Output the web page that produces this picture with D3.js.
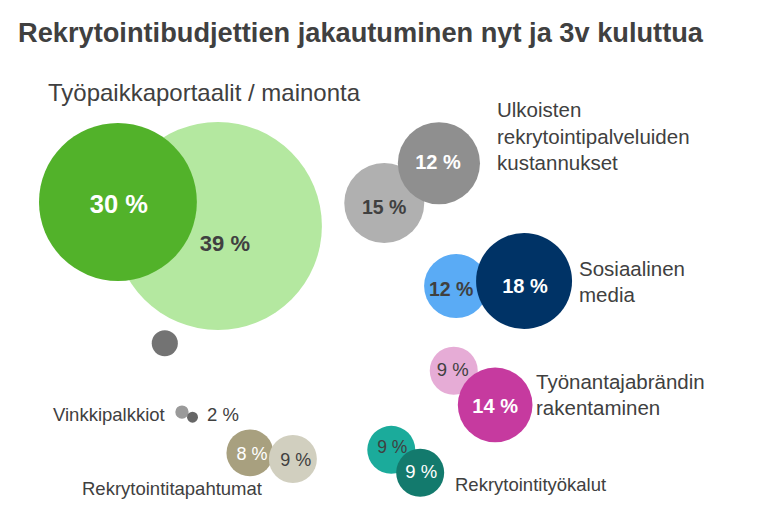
<!DOCTYPE html>
<html><head><meta charset="utf-8">
<script src="https://cdn.jsdelivr.net/npm/d3@7"></script>
<style>
html,body{margin:0;padding:0;background:#fff;}
svg{display:block;font-family:"Liberation Sans",Arial,sans-serif;}
</style></head>
<body>
<script>
// ---- data ----
const title = "Rekrytointibudjettien jakautuminen nyt ja 3v kuluttua";
const categories = [
  "Työpaikkaportaalit / mainonta",
  "Ulkoisten rekrytointipalveluiden kustannukset",
  "Sosiaalinen media",
  "Työnantajabrändin rakentaminen",
  "Rekrytointityökalut",
  "Rekrytointitapahtumat",
  "Vinkkipalkkiot"
];
// bubbles in drawing order (later on top)
const bubbleCategory = [0,0, 1,1, 2,2, 3,3, 4,4, 5,5, 6,6, -1];
const bubbleValue    = [39,30, 15,12, 12,18, 9,14, 9,9, 8,9, 2,2, null];
const bubbleSize     = [39,29.6, 15,15.4, 12,18, 9,14, 9,9, 8.8,9, 2.5,2.05, 4.9];
const bubbleX        = [27.9,15.1, 49.2,56.2, 58.4,67.1, 58.1,63.4, 50.1,53.8, 32.0,37.5, 23.3,24.65, 21.1];
const bubbleY        = [44.3,39.6, 39.8,32.0, 56.1,55.1, 72.7,79.4, 88.2,92.7, 88.8,90.0, 80.8,81.8, 67.3];

// ---- styles ----
const colors = ["#b4e8a0","#52b22a","#b0b0b0","#8f8f8f","#5aabf5","#003366","#e6acd6","#c63a9f",
                "#1bab9b","#137a6d","#a8a07f","#d1cfbf","#9a9a9a","#666666","#737373"];
const labelStyle = [
  {fill:"#404040",w:"bold",s:22,dx:7,dy:17},
  {fill:"#ffffff",w:"bold",s:25.5,dx:1,dy:2},
  {fill:"#404040",w:"bold",s:19.5,dx:0,dy:4},
  {fill:"#ffffff",w:"bold",s:20,dx:-1,dy:-1},
  {fill:"#404040",w:"bold",s:19.5,dx:-5,dy:3},
  {fill:"#ffffff",w:"bold",s:20,dx:1,dy:5},
  {fill:"#404040",w:"normal",s:18.5,dx:-1,dy:-1},
  {fill:"#ffffff",w:"bold",s:20,dx:0,dy:1},
  {fill:"#404040",w:"normal",s:17.5,dx:1,dy:-3},
  {fill:"#ffffff",w:"normal",s:18.5,dx:1,dy:-1},
  {fill:"#ffffff",w:"normal",s:18,dx:2,dy:1},
  {fill:"#404040",w:"normal",s:18,dx:3,dy:1}
];

const W = 781, H = 510;
const svg = d3.select("body").append("svg").attr("width", W).attr("height", H);

const x = d3.scaleLinear().domain([0,100]).range([0,W]);
const y = d3.scaleLinear().domain([0,100]).range([0,H]);
const r = d3.scaleLinear().domain([0,39]).range([0,104]);

const bubbles = bubbleSize.map((s,i)=>({i, cat:bubbleCategory[i], value:bubbleValue[i], size:s, x:bubbleX[i], y:bubbleY[i]}));

// title
svg.append("text").attr("x",18).attr("y",42).text(title)
  .attr("font-size",27.5).attr("font-weight","bold").attr("fill","#404040")
  .attr("textLength",685).attr("lengthAdjust","spacingAndGlyphs");

svg.append("g").selectAll("circle").data(bubbles).join("circle")
  .attr("cx",d=>x(d.x)).attr("cy",d=>y(d.y)).attr("r",d=>r(d.size))
  .attr("fill",d=>colors[d.i]);

svg.append("g").selectAll("text").data(bubbles.filter(d=>d.value!==null && d.cat!==6)).join("text")
  .attr("x",d=>x(d.x)+labelStyle[d.i].dx).attr("y",d=>y(d.y)+labelStyle[d.i].dy)
  .attr("dy","0.35em").attr("text-anchor","middle")
  .attr("font-size",d=>labelStyle[d.i].s).attr("font-weight",d=>labelStyle[d.i].w)
  .attr("fill",d=>labelStyle[d.i].fill)
  .text(d=>d.value+" %");

// category labels
const catLabels = [
  {lines:[categories[0]], x:48, y:101, s:24, tl:[312]},
  {lines:["Ulkoisten","rekrytointipalveluiden","kustannukset"], x:497, y:117, s:20.5, lh:26.5},
  {lines:["Sosiaalinen","media"], x:579, y:276, s:20.5, lh:26},
  {lines:["Työnantajabrändin","rakentaminen"], x:536, y:389, s:20.5, lh:26},
  {lines:[categories[4]], x:455, y:491, s:18.5},
  {lines:[categories[5]], x:82, y:495, s:18.5},
  {lines:[categories[6]], x:53, y:421, s:18.5}
];
catLabels.forEach(c=>{
  const t = svg.append("text").attr("fill","#404040").attr("font-size",c.s);
  c.lines.forEach((ln,k)=>{
    const ts = t.append("tspan").attr("x",c.x).attr("y",c.y+k*(c.lh||0)).text(ln);
    if(c.tl) ts.attr("textLength",c.tl[k]).attr("lengthAdjust","spacingAndGlyphs");
  });
});
// Vinkkipalkkiot value
const vb = bubbles.find(d=>d.cat===6);
svg.append("text").attr("x",207).attr("y",421).attr("fill","#404040").attr("font-size",18.5)
  .text(vb.value+" %");
</script>
</body></html>
